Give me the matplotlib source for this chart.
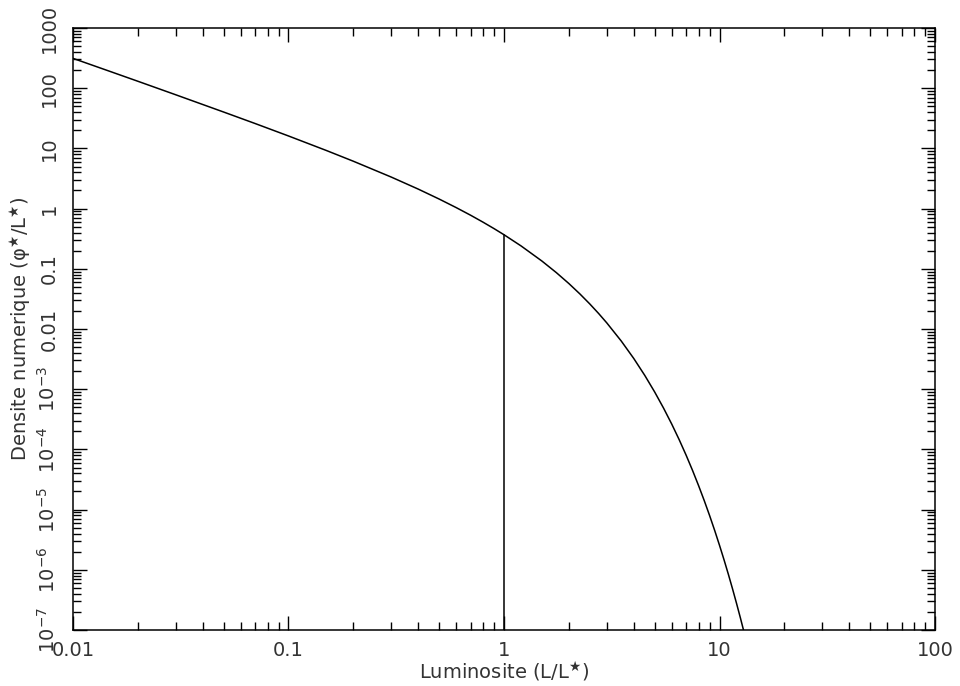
import numpy as np
import matplotlib
matplotlib.use("Agg")
import matplotlib.pyplot as plt
from matplotlib.ticker import LogLocator, NullFormatter

# luminosity function (L/L*, phi*/L*)
lum = [0.01, 0.015, 0.02, 0.03, 0.05, 0.07, 0.1, 0.15, 0.2, 0.3, 0.4, 0.5,
       0.6, 0.7, 0.8, 0.9, 1.0, 1.2, 1.5, 1.75, 2.0, 2.25, 2.5, 2.75, 3.0,
       3.5, 4.0, 4.5, 5.0, 5.5, 6.0, 6.5, 7.0, 7.5, 8.0, 8.5, 9.0, 9.5,
       10.0, 10.5, 11.0, 11.5, 12.0, 12.5, 13.0, 14.0]
dens = [313.0, 187.7, 130.4, 77.7, 40.2, 25.9, 16.09, 9.22, 6.12, 3.337,
        2.108, 1.442, 1.039, 0.776, 0.594, 0.464, 0.368, 0.2398, 0.1344,
        0.0863, 0.0569, 0.03824, 0.02611, 0.01805, 0.01261, 0.00631,
        0.00324, 1.695e-3, 9.01e-4, 4.85e-4, 2.64e-4, 1.449e-4, 8.01e-5,
        4.455e-5, 2.49e-5, 1.402e-5, 7.92e-6, 4.487e-6, 2.55e-6, 1.457e-6,
        8.34e-7, 4.783e-7, 2.75e-7, 1.586e-7, 9.16e-8, 3.07e-8]

# marker at L = L*
lstar = 1.0
lstar_dens = 0.368

xticks = [0.01, 0.1, 1, 10, 100]
xlabels = ['0.01', '0.1', '1', '10', '100']
yticks = [1e-7, 1e-6, 1e-5, 1e-4, 1e-3, 0.01, 0.1, 1, 10, 100, 1000]
ylabels = [r'$10^{-7}$', r'$10^{-6}$', r'$10^{-5}$', r'$10^{-4}$', r'$10^{-3}$',
           '0.01', '0.1', '1', '10', '100', '1000']

plt.rcParams['mathtext.default'] = 'regular'
plt.rcParams['font.family'] = ['DejaVu Sans']
txtcol = '#333333'

fig = plt.figure(figsize=(9.6, 6.86), dpi=100)
ax = fig.add_axes([0.076, 0.0816, 0.898, 0.8776])

ax.plot(lum, dens, color='black', lw=1.1)
ax.plot([lstar, lstar], [1e-7, lstar_dens], color='black', lw=1.1)

ax.set_xscale('log')
ax.set_yscale('log')
ax.set_xlim(0.01, 100)
ax.set_ylim(1e-7, 1000)

ax.set_xticks(xticks)
ax.set_xticklabels(xlabels)
ax.set_yticks(yticks)
ax.set_yticklabels(ylabels, rotation=90, va='center')
ax.xaxis.set_minor_locator(LogLocator(subs=np.arange(2, 10), numticks=100))
ax.yaxis.set_minor_locator(LogLocator(subs=np.arange(2, 10), numticks=100))
ax.xaxis.set_minor_formatter(NullFormatter())
ax.yaxis.set_minor_formatter(NullFormatter())

ax.tick_params(which='both', direction='in', top=True, right=True,
               labelsize=14, labelcolor=txtcol, width=1)
ax.tick_params(which='major', length=10)
ax.tick_params(which='minor', length=6)
ax.tick_params(axis='x', pad=8)
ax.tick_params(axis='y', pad=10)
for s in ax.spines.values():
    s.set_linewidth(1.1)

ax.set_xlabel('Luminosite (L/L$^{\u2605}$)', fontsize=14, color=txtcol, labelpad=0)
ax.set_ylabel('Densite numerique (\u03c6$^{\u2605}$/L$^{\u2605}$)', fontsize=14,
              color=txtcol, labelpad=2)

plt.savefig('out.png', dpi=100)
